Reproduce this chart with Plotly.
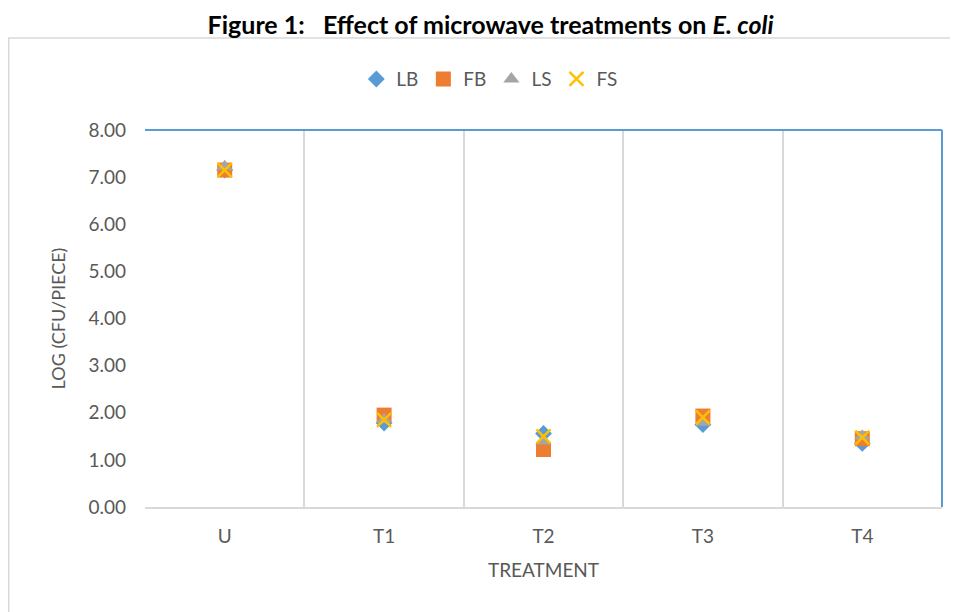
import plotly.graph_objects as go

categories = ["U", "T1", "T2", "T3", "T4"]
LB = [7.15, 1.78, 1.56, 1.75, 1.35]
FB = [7.15, 1.95, 1.22, 1.93, 1.45]
LS = [7.22, 1.85, 1.40, 1.80, 1.50]
FS = [7.15, 1.85, 1.50, 1.90, 1.47]

font_family = "Lato, 'Open Sans', sans-serif"
txt = "#595959"

fig = go.Figure()
fig.add_trace(go.Scatter(x=categories, y=LB, name="LB", mode="markers",
                         marker=dict(symbol="diamond", size=13, color="#5B9BD5")))
fig.add_trace(go.Scatter(x=categories, y=FB, name="FB", mode="markers",
                         marker=dict(symbol="square", size=15, color="#ED7D31")))
fig.add_trace(go.Scatter(x=categories, y=LS, name="LS", mode="markers",
                         marker=dict(symbol="triangle-up", size=14, color="#A5A5A5")))
fig.add_trace(go.Scatter(x=categories, y=FS, name="FS", mode="markers",
                         marker=dict(symbol="x-thin", size=14, color="#FFC000",
                                     line=dict(color="#FFC000", width=2.5))))

fig.update_layout(
    width=950, height=604,
    margin=dict(l=137, r=16, t=122, b=105),
    paper_bgcolor="white", plot_bgcolor="white",
    font=dict(family=font_family, color=txt, size=18),
    title=dict(text="<b>Figure 1:   Effect of microwave treatments on <i>E. coli</i></b>",
               x=0.508, xanchor="center", y=0.972, yanchor="middle",
               font=dict(family=font_family, size=25, color="black")),
    legend=dict(orientation="h", x=0.432, xanchor="center", y=1.135, yanchor="middle",
                font=dict(size=19, color=txt), itemwidth=30, tracegroupgap=0,
                bgcolor="rgba(0,0,0,0)"),
    showlegend=True,
    xaxis=dict(type="category", range=[-0.5, 4.5], tickson="boundaries",
               showgrid=True, gridcolor="#D9D9D9", gridwidth=1.5,
               showline=True, linecolor="#D9D9D9", linewidth=1.5,
               ticks="", tickfont=dict(size=19, color=txt), ticklabelstandoff=11,
               title=dict(text="TREATMENT", font=dict(size=19, color=txt), standoff=18),
               zeroline=False),
    yaxis=dict(range=[0, 8], dtick=1, tickformat=".2f", showgrid=False,
               zeroline=False, showline=False, ticks="",
               tickfont=dict(size=19, color=txt), ticklabelstandoff=18,
               title=dict(text="LOG (CFU/PIECE)", font=dict(size=18, color=txt), standoff=18)),
)

# outer chart frame
fig.add_shape(type="rect", xref="paper", yref="paper",
              x0=-0.171, y0=-0.6, x1=1.1, y1=1.244,
              line=dict(color="#D9D9D9", width=1.5), fillcolor="rgba(0,0,0,0)", layer="below")
# blue top and right plot-area borders
fig.add_shape(type="line", xref="paper", yref="paper", x0=0, y0=1, x1=1, y1=1,
              line=dict(color="#5B9BD5", width=2))
fig.add_shape(type="line", xref="paper", yref="paper", x0=1, y0=0, x1=1, y1=1,
              line=dict(color="#5B9BD5", width=2))

fig.write_html("out.html")
